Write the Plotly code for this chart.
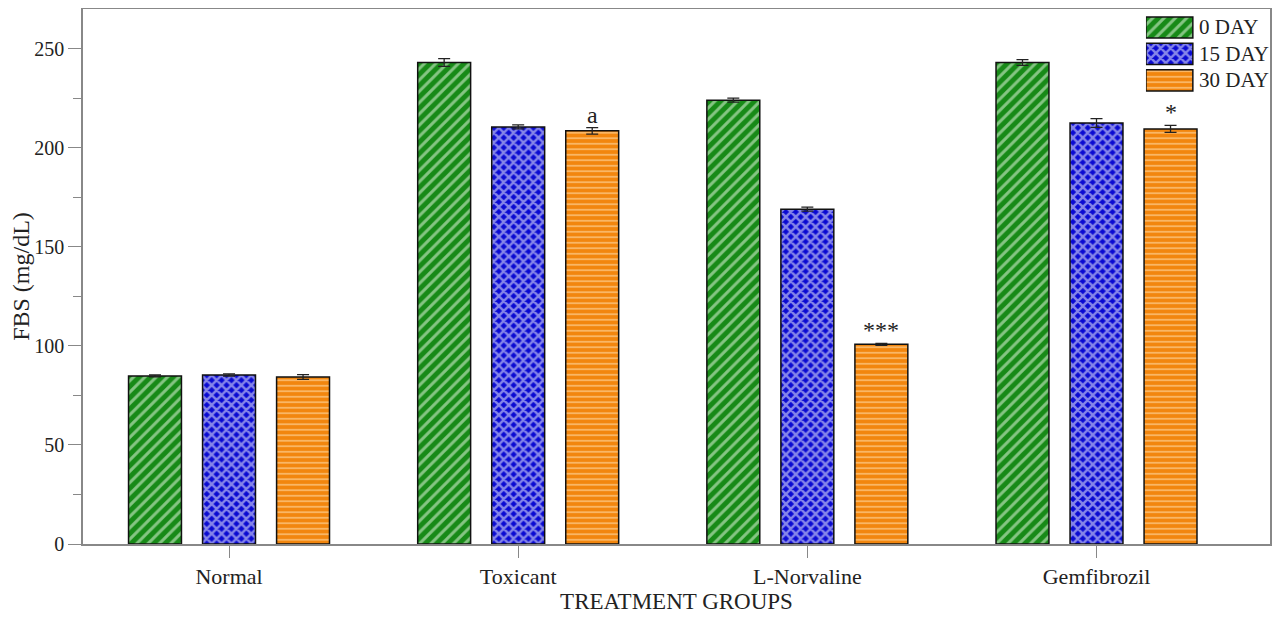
import plotly.graph_objects as go

groups = ["Normal", "Toxicant", "L-Norvaline", "Gemfibrozil"]
series_names = ["0 DAY", "15 DAY", "30 DAY"]
day0 = [84.8, 243.0, 224.0, 243.0]
day0_err = [0.5, 2.0, 1.0, 1.5]
day15 = [85.3, 210.5, 169.0, 212.5]
day15_err = [0.6, 1.0, 1.0, 2.2]
day30 = [84.3, 208.5, 100.8, 209.5]
day30_err = [1.2, 1.6, 0.5, 1.8]
marks = ["", "a", "***", "*"]

values = [day0, day15, day30]
errors = [day0_err, day15_err, day30_err]
styles = [
    dict(color="#178A17", fg="#F4FFF0", shape="/", size=8, solidity=0.38),
    dict(color="#0A0AD2", fg="#FFFFFF", shape="x", size=7, solidity=0.58),
    dict(color="#F2860E", fg="#FFE6BC", shape="-", size=5.5, solidity=0.33),
]

FONT = "Liberation Serif"
xi = list(range(len(groups)))
fig = go.Figure()
for name, v, e, s in zip(series_names, values, errors, styles):
    fig.add_trace(go.Bar(
        x=xi, y=v, name=name, showlegend=False,
        marker=dict(color=s["color"], line=dict(color="#111111", width=1.5),
                    pattern=dict(shape=s["shape"], fgcolor=s["fg"], size=s["size"],
                                 solidity=s["solidity"], fillmode="overlay")),
        error_y=dict(type="data", array=e, color="#222222", thickness=1.3, width=6),
    ))

# custom legend with large patterned swatches (inset axes)
for name, s in zip(series_names, styles):
    fig.add_trace(go.Bar(
        x=[1], y=[name], orientation="h", width=0.8, showlegend=False,
        xaxis="x2", yaxis="y2", hoverinfo="skip",
        marker=dict(color=s["color"], line=dict(color="#111111", width=1.5),
                    pattern=dict(shape=s["shape"], fgcolor=s["fg"], size=s["size"],
                                 solidity=s["solidity"], fillmode="overlay")),
    ))
    fig.add_annotation(x=1.08, y=name, xref="x2", yref="y2", text=name, showarrow=False,
                       xanchor="left", font=dict(family=FONT, size=21, color="#222222"))

offset = 0.256
for i, m in enumerate(marks):
    if m:
        fig.add_annotation(x=xi[i] + offset, y=day30[i] + day30_err[i], text=m,
                           showarrow=False, yanchor="bottom", yshift=-2,
                           font=dict(family=FONT, size=24, color="#222222"))

# page has an 8px body margin: figure occupies page pixels 8..1280 x 8..618
fig.update_layout(
    width=1272, height=610,
    margin=dict(l=75, r=10, t=1, b=74),
    paper_bgcolor="white", plot_bgcolor="white",
    barmode="group", bargap=0.232, bargroupgap=0.285,
    font=dict(family=FONT, size=21, color="#222222"),
    showlegend=False,
    xaxis=dict(range=[-0.505, 3.60], tickmode="array", tickvals=xi, ticktext=groups,
               showline=True, linecolor="#888888", linewidth=1.5, mirror=True,
               ticks="outside", ticklen=12, tickcolor="#888888", automargin=False,
               tickfont=dict(size=22), showgrid=False, zeroline=False,
               title=dict(text="TREATMENT GROUPS", font=dict(size=23), standoff=0)),
    yaxis=dict(range=[0, 270], tickvals=[0, 50, 100, 150, 200, 250],
               showline=True, linecolor="#888888", linewidth=1.5, mirror=True,
               ticks="outside", ticklen=13, tickcolor="#888888", automargin=False,
               minor=dict(tickvals=[25, 75, 125, 175, 225], ticks="outside", ticklen=8, tickcolor="#888888"),
               tickfont=dict(size=20), showgrid=False, zeroline=False,
               title=dict(text="FBS (mg/dL)", font=dict(size=24), standoff=2)),
    xaxis2=dict(domain=[0.8955, 0.9587], range=[0, 1.6], visible=False, fixedrange=True),
    yaxis2=dict(domain=[0.8405, 0.9916], anchor="x2", visible=False, fixedrange=True,
                categoryorder="array", categoryarray=series_names[::-1]),
)

fig.write_html("out.html")
